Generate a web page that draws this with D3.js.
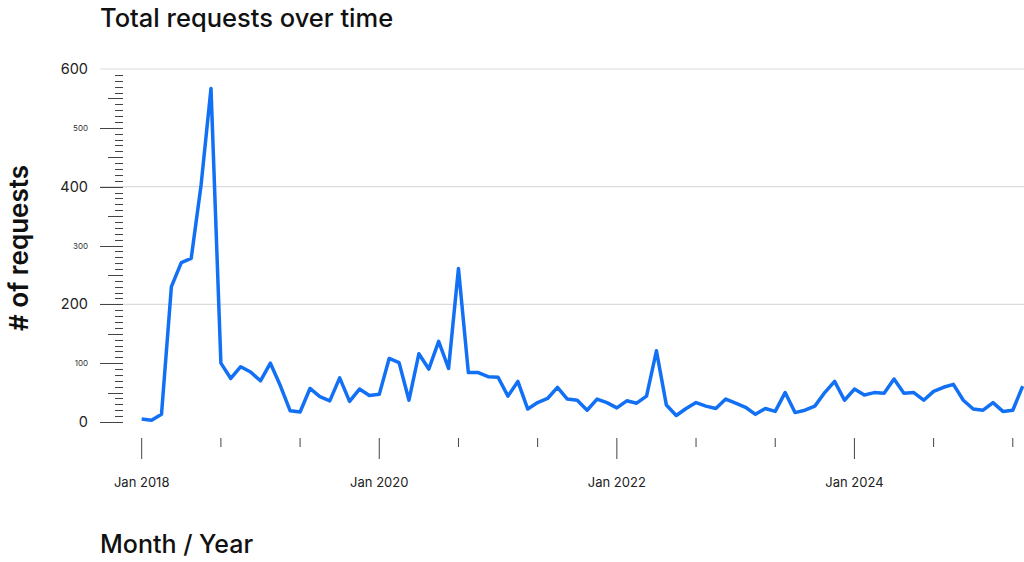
<html>
<head>
<title>Total requests over time</title>
<script src="https://d3js.org/d3.v7.min.js"></script>
<style>
body { margin: 0; background: #fff; font-family: Inter, "Noto Sans", sans-serif; }
svg { display: block; }
</style>
</head>
<body>
<svg></svg>
<script>

var width = 1024;
var height = 562;

// monthly request counts, Jan 2018 .. Jun 2025
var startMonth = new Date(2018, 0, 1);
var requests2018 = [5, 3, 13, 230, 271, 278, 403, 567, 100, 74, 94, 85];
var requests2019 = [70, 100, 62, 19, 17, 57, 43, 36, 75, 35, 56, 45];
var requests2020 = [47, 108, 101, 37, 116, 90, 137, 91, 261, 84, 84, 77];
var requests2021 = [76, 44, 69, 22, 33, 40, 59, 39, 37, 20, 39, 33];
var requests2022 = [24, 36, 32, 44, 121, 29, 11, 23, 33, 27, 23, 39];
var requests2023 = [32, 25, 13, 23, 18, 50, 16, 20, 27, 50, 69, 37];
var requests2024 = [56, 46, 50, 49, 73, 49, 50, 37, 52, 59, 64, 37];
var requests2025 = [22, 20, 33, 18, 20, 61];

var yMajorTicks = [0, 200, 400, 600];
var yMinorLabels = [100, 300, 500];
var xLabelYears = [2018, 2020, 2022, 2024];

var counts = [].concat(requests2018, requests2019, requests2020, requests2021,
	requests2022, requests2023, requests2024, requests2025);
var data = counts.map(function (v, i) {
	return { month: i, value: v };
});

var svg = d3.select("svg").attr("width", width).attr("height", height);

// months are spaced evenly, index 0 = Jan 2018
var xScale = d3.scaleLinear()
	.domain([0, data.length - 1])
	.range([141.7, 1022.7]);
var yScale = d3.scaleLinear()
	.domain([0, 600])
	.range([422, 69]);

// gridlines
svg.selectAll("line.grid").data([200, 400, 600]).enter().append("line")
	.attr("class", "grid")
	.attr("x1", 100).attr("x2", width)
	.attr("y1", function (d) { return yScale(d); })
	.attr("y2", function (d) { return yScale(d); })
	.style("stroke", "#dcdcdc").style("stroke-width", 1.2);

// y ruler ticks every 10
var yTicks = d3.range(0, 600, 10);
svg.selectAll("line.yt").data(yTicks).enter().append("line")
	.attr("class", "yt")
	.attr("x1", function (d) {
		if (d % 100 == 0) return 100;
		if (d % 50 == 0) return 108;
		return 115;
	})
	.attr("x2", 123)
	.attr("y1", function (d) { return Math.round(yScale(d)) + 0.5; })
	.attr("y2", function (d) { return Math.round(yScale(d)) + 0.5; })
	.style("stroke", "#444").style("stroke-width", 1);

svg.selectAll("text.ymaj").data(yMajorTicks).enter().append("text")
	.attr("class", "ymaj")
	.attr("x", 88)
	.attr("y", function (d) { return yScale(d) + 5; })
	.attr("text-anchor", "end")
	.style("font-size", "14.5px").style("fill", "#222")
	.text(function (d) { return d; });

svg.selectAll("text.ymin").data(yMinorLabels).enter().append("text")
	.attr("class", "ymin")
	.attr("x", 88)
	.attr("y", function (d) { return yScale(d) + 3; })
	.attr("text-anchor", "end")
	.style("font-size", "8px").style("fill", "#333")
	.text(function (d) { return d; });

// x axis ticks every 8 months, long ones every 2 years
var xTicks = d3.range(0, 90, 8);
svg.selectAll("line.xt").data(xTicks).enter().append("line")
	.attr("class", "xt")
	.attr("x1", function (d) { return xScale(d); })
	.attr("x2", function (d) { return xScale(d); })
	.attr("y1", 438)
	.attr("y2", function (d) { return d % 24 == 0 ? 459 : 447; })
	.style("stroke", "#444").style("stroke-width", 1);

svg.selectAll("text.xl").data(xLabelYears).enter().append("text")
	.attr("class", "xl")
	.attr("x", function (d) { return xScale((d - 2018) * 12); })
	.attr("y", 487)
	.attr("text-anchor", "middle")
	.style("font-size", "13px").style("fill", "#222")
	.text(function (d) { return "Jan " + d; });

// the line
var line = d3.line()
	.x(function (d) { return xScale(d.month); })
	.y(function (d) { return yScale(d.value); });

svg.append("path").datum(data)
	.attr("d", line)
	.style("fill", "none")
	.style("stroke", "#1270f5")
	.style("stroke-width", 3.5)
	.style("stroke-linejoin", "round");

// titles
svg.append("text").attr("x", 100).attr("y", 27)
	.style("font-size", "25.5px").style("font-weight", 500).style("fill", "#111")
	.text("Total requests over time");

svg.append("text").attr("x", 100).attr("y", 553)
	.style("font-size", "25px").style("font-weight", 500).style("fill", "#111")
	.text("Month / Year");

svg.append("text")
	.attr("transform", "translate(28,248) rotate(-90)")
	.attr("text-anchor", "middle")
	.style("font-size", "26px").style("font-weight", 600).style("fill", "#111")
	.text("# of requests");

</script>
</body>
</html>
